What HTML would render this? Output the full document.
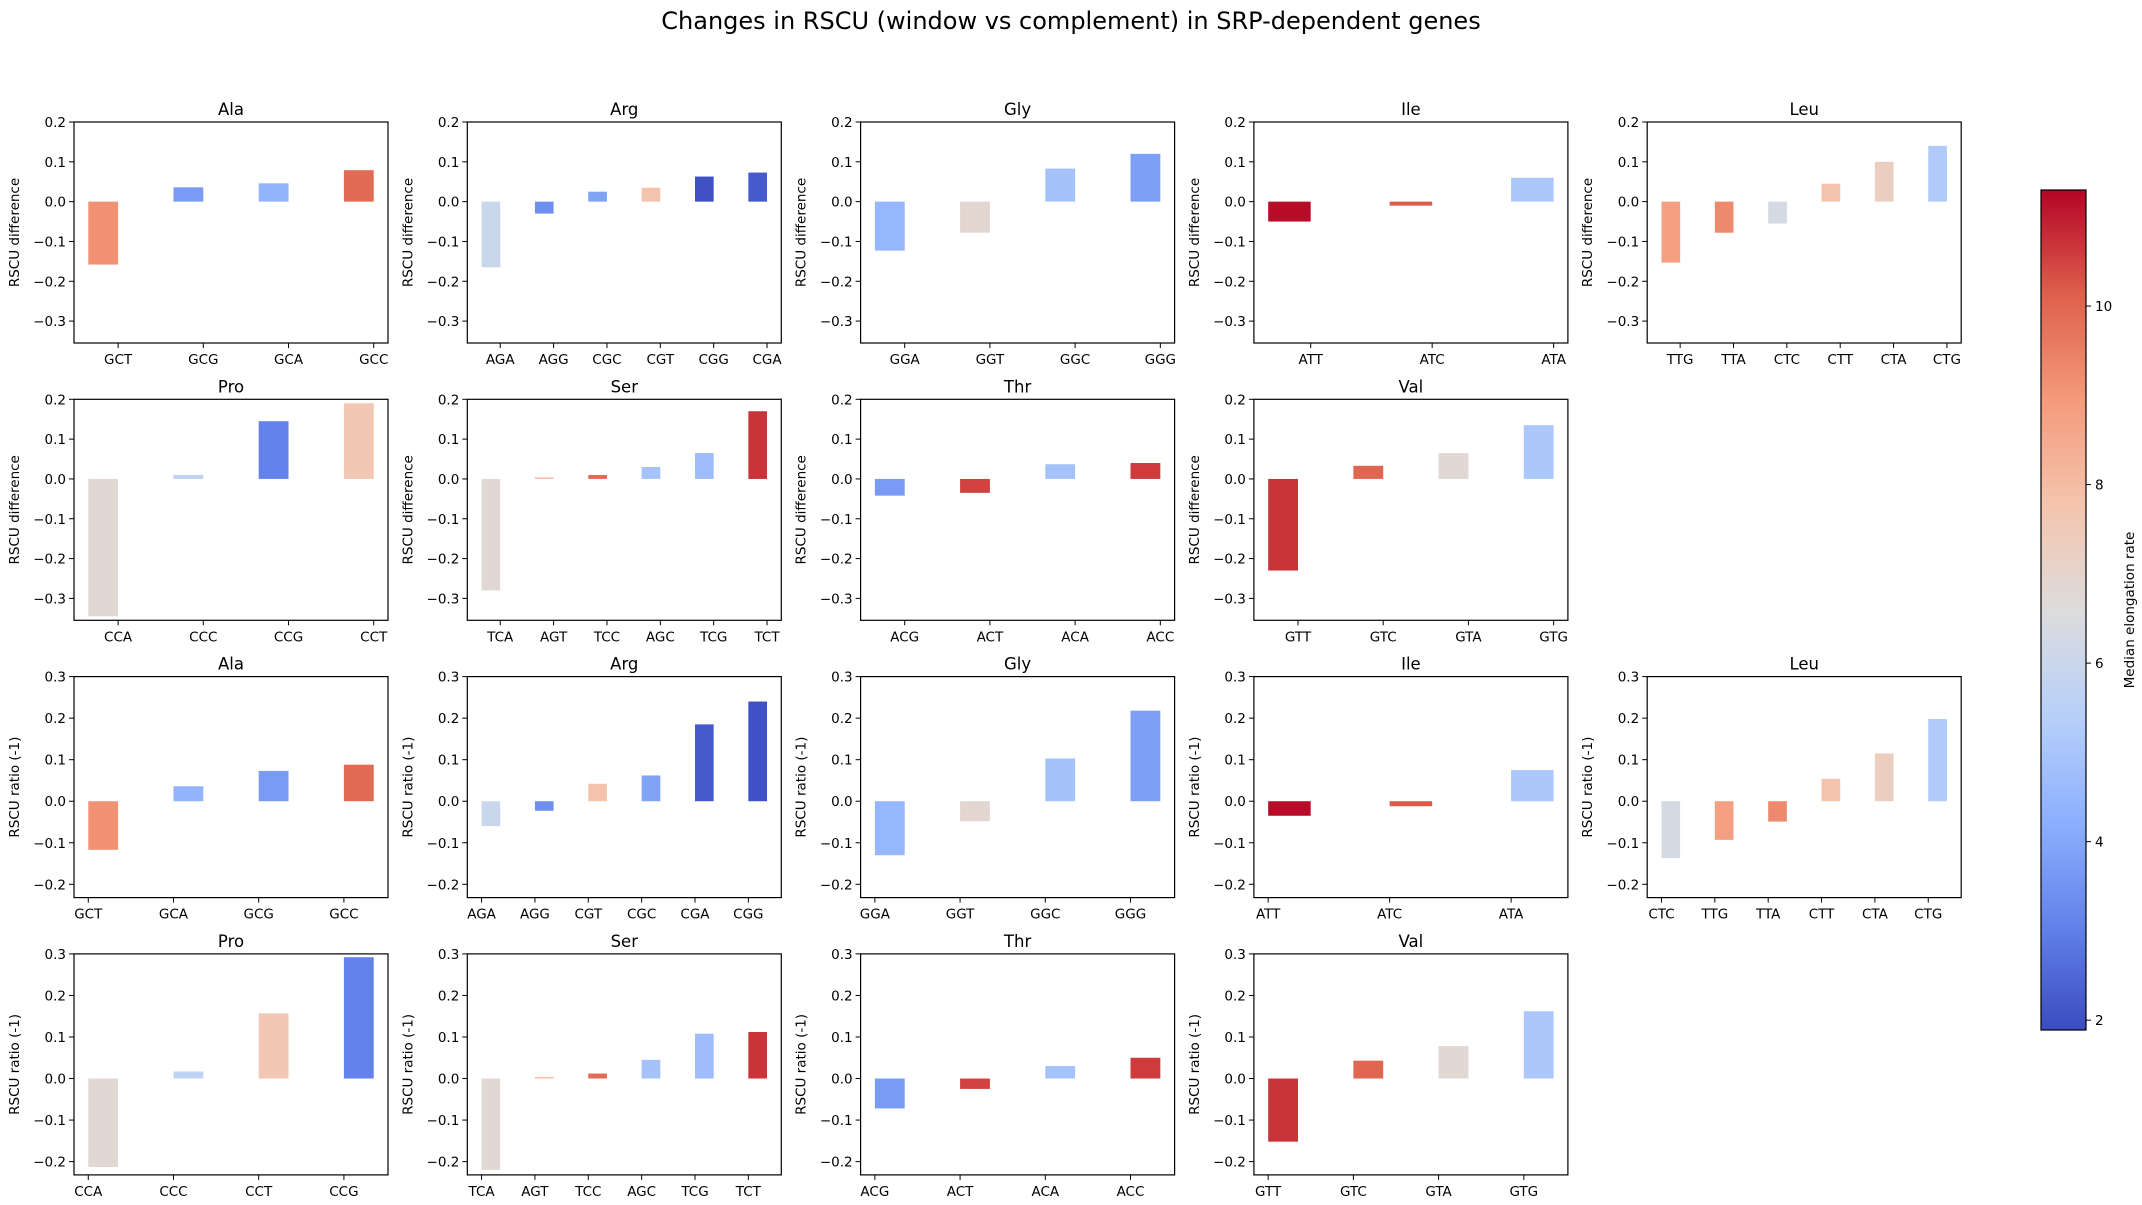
<!DOCTYPE html>
<html><head><meta charset="utf-8">
<style>
html,body{margin:0;padding:0;background:#fff;}
svg{display:block;font-family:"DejaVu Sans","Liberation Sans",sans-serif;}
</style></head>
<body>
<svg id="fig" width="2142" height="1205" viewBox="0 0 2142 1205" xmlns="http://www.w3.org/2000/svg">
<text x="1071" y="29" text-anchor="middle" font-size="24" fill="#000">Changes in RSCU (window vs complement) in SRP-dependent genes</text>
</svg>
<script>
// ---- data ----
const rateByCodon = {
 GCT:9.1,GCG:3.7,GCA:4.4,GCC:9.9,
 AGA:6.0,AGG:3.4,CGC:3.9,CGT:7.8,CGG:2.0,CGA:2.2,
 GGA:4.5,GGT:6.9,GGC:4.9,GGG:3.8,
 ATT:11.2,ATC:10.2,ATA:5.1,
 TTG:8.8,TTA:9.3,CTC:6.3,CTT:7.8,CTA:7.3,CTG:5.2,
 CCA:6.8,CCC:5.7,CCG:3.1,CCT:7.6,
 TCA:6.8,AGT:7.9,TCC:9.9,AGC:4.9,TCG:4.7,TCT:10.7,
 ACG:3.7,ACT:10.5,ACA:4.9,ACC:10.6,
 GTT:10.7,GTC:10.0,GTA:6.8,GTG:5.1
};
const diffAmino = ["Ala","Arg","Gly","Ile","Leu","Pro","Ser","Thr","Val"];
const diffCodons = [
 ["GCT","GCG","GCA","GCC"],["AGA","AGG","CGC","CGT","CGG","CGA"],["GGA","GGT","GGC","GGG"],
 ["ATT","ATC","ATA"],["TTG","TTA","CTC","CTT","CTA","CTG"],["CCA","CCC","CCG","CCT"],
 ["TCA","AGT","TCC","AGC","TCG","TCT"],["ACG","ACT","ACA","ACC"],["GTT","GTC","GTA","GTG"]];
const diffValues = [
 [-0.158,0.036,0.046,0.079],[-0.165,-0.030,0.025,0.035,0.063,0.073],[-0.123,-0.078,0.083,0.120],
 [-0.050,-0.010,0.060],[-0.153,-0.078,-0.055,0.045,0.100,0.140],[-0.345,0.010,0.145,0.190],
 [-0.280,0.004,0.010,0.030,0.065,0.170],[-0.042,-0.035,0.037,0.040],[-0.230,0.033,0.065,0.135]];
const ratioCodons = [
 ["GCT","GCA","GCG","GCC"],["AGA","AGG","CGT","CGC","CGA","CGG"],["GGA","GGT","GGC","GGG"],
 ["ATT","ATC","ATA"],["CTC","TTG","TTA","CTT","CTA","CTG"],["CCA","CCC","CCT","CCG"],
 ["TCA","AGT","TCC","AGC","TCG","TCT"],["ACG","ACT","ACA","ACC"],["GTT","GTC","GTA","GTG"]];
const ratioValues = [
 [-0.117,0.036,0.073,0.088],[-0.060,-0.023,0.042,0.062,0.185,0.240],[-0.130,-0.048,0.103,0.218],
 [-0.035,-0.012,0.075],[-0.137,-0.093,-0.049,0.054,0.115,0.198],[-0.213,0.017,0.157,0.292],
 [-0.220,0.004,0.012,0.045,0.108,0.112],[-0.072,-0.025,0.030,0.050],[-0.152,0.043,0.078,0.162]];
const diffTicks = [0.2,0.1,0.0,-0.1,-0.2,-0.3];
const ratioTicks = [0.3,0.2,0.1,0.0,-0.1,-0.2];
const cbarTicks = [2,4,6,8,10];
const VMIN=1.89, VMAX=11.30;

// ---- layout ----
const NS="http://www.w3.org/2000/svg";
const svg=document.getElementById('fig');
const AX_L0=74, AX_DX=393.3, AX_W=314, AX_T0=122, AX_DY=277.3, AX_H=221;
const BW=0.35;
const cw=[[0,59,76,192],[0.125,98,130,234],[0.25,141,176,254],[0.375,184,208,249],[0.5,221,220,220],[0.625,245,196,173],[0.75,244,154,123],[0.875,222,96,77],[1,180,4,38]];
function coolwarm(t){t=Math.max(0,Math.min(1,t));for(let i=0;i<cw.length-1;i++){const a=cw[i],b=cw[i+1];if(t<=b[0]){const f=(t-a[0])/(b[0]-a[0]);return `rgb(${Math.round(a[1]+f*(b[1]-a[1]))},${Math.round(a[2]+f*(b[2]-a[2]))},${Math.round(a[3]+f*(b[3]-a[3]))})`;}}return 'rgb(180,4,38)';}
function colorOf(r){return coolwarm((r-VMIN)/(VMAX-VMIN));}
function el(tag,attrs,parent){const e=document.createElementNS(NS,tag);for(const k in attrs)e.setAttribute(k,attrs[k]);(parent||svg).appendChild(e);return e;}
function txt(s,attrs,parent){const e=el('text',attrs,parent);e.textContent=s;return e;}

function panel(row,col,amino,codons,vals,ymin,ymax,ticks,ylab,offsetLeft){
  const L=AX_L0+col*AX_DX, T=AX_T0+row*AX_DY;
  const g=el('g',{});
  
  
  const n=codons.length;
  const d0=offsetLeft?-BW:0, d1=offsetLeft?n-1:n-1+BW;
  const m=0.05*(d1-d0); const xmin=d0-m,xmax=d1+m;
  const X=v=>L+(v-xmin)/(xmax-xmin)*AX_W;
  const Y=v=>T+(ymax-v)/(ymax-ymin)*AX_H;
  for(let i=0;i<n;i++){
    const x0=offsetLeft?X(i-BW):X(i), x1=offsetLeft?X(i):X(i+BW);
    const y0=Y(Math.max(0,vals[i])), y1=Y(Math.min(0,vals[i]));
    const r=el('rect',{x:x0,y:y0,width:x1-x0,height:Math.max(0.5,y1-y0),fill:colorOf(rateByCodon[codons[i]])},g);
    
    
    el('line',{x1:X(i),x2:X(i),y1:T+AX_H,y2:T+AX_H+5,stroke:'#000','stroke-width':1},g);
    const t=txt(codons[i],{x:X(i),y:T+AX_H+21,'text-anchor':'middle','font-size':13.5},g);
    
    
  }
  for(const tv of ticks){
    const y=Y(tv);
    el('line',{x1:L-5,x2:L,y1:y,y2:y,stroke:'#000','stroke-width':1},g);
    const t=txt((tv<0?'\u2212':'')+Math.abs(tv).toFixed(1),{x:L-8,y:y+5,'text-anchor':'end','font-size':13.5},g);
    
    
  }
  el('rect',{x:L,y:T,width:AX_W,height:AX_H,fill:'none',stroke:'#000','stroke-width':1.2},g);
  const tt=txt(amino,{x:L+AX_W/2,y:T-7,'text-anchor':'middle','font-size':16.5},g);
  
  
  const yl=txt(ylab,{x:0,y:0,'text-anchor':'middle','font-size':13.5,transform:`translate(${L-55},${T+AX_H/2}) rotate(-90)`},g);
  
  
}
for(let k=0;k<9;k++){
  const row=k<5?0:1, col=k<5?k:k-5;
  panel(row,col,diffAmino[k],diffCodons[k],diffValues[k],-0.355,0.2,diffTicks,'RSCU difference',true);
  panel(row+2,col,diffAmino[k],ratioCodons[k],ratioValues[k],-0.232,0.3,ratioTicks,'RSCU ratio (-1)',false);
}
// ---- colorbar ----
const CB_L=2041,CB_W=45,CB_T=190,CB_B=1030;
const defs=el('defs',{});
const grad=el('linearGradient',{id:'cw',x1:0,y1:1,x2:0,y2:0},defs);
for(const s of cw){el('stop',{offset:s[0],'stop-color':`rgb(${s[1]},${s[2]},${s[3]})`},grad);}
const cb=el('g',{});


el('rect',{x:CB_L,y:CB_T,width:CB_W,height:CB_B-CB_T,fill:'url(#cw)',stroke:'#000','stroke-width':1.2},cb);
const CY=v=>CB_B-(v-VMIN)/(VMAX-VMIN)*(CB_B-CB_T);
for(const tv of cbarTicks){
  const y=CY(tv);
  el('line',{x1:CB_L+CB_W,x2:CB_L+CB_W+5,y1:y,y2:y,stroke:'#000','stroke-width':1},cb);
  const t=txt(String(tv),{x:CB_L+CB_W+9,y:y+5,'font-size':13.5},cb);
  
  
}
const cl=txt('Median elongation rate',{x:0,y:0,'text-anchor':'middle','font-size':13.5,transform:`translate(2134,${(CB_T+CB_B)/2}) rotate(-90)`},cb);


</script>
</body></html>
